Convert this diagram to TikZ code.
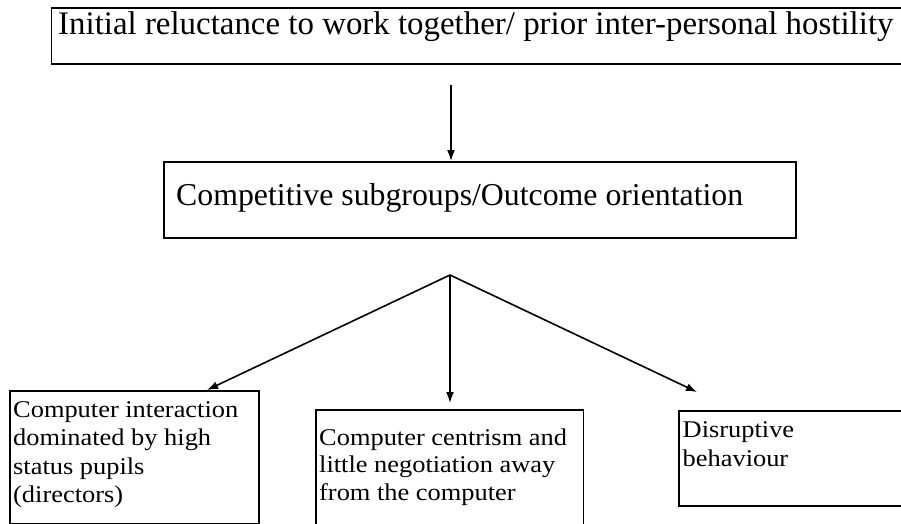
\documentclass[tikz,border=0pt]{standalone}
\usepackage{fontspec}
\setmainfont{Liberation Serif}
\newfontfamily\boxfont{Liberation Serif}[FakeStretch=1.1]
\usetikzlibrary{arrows.meta}
\begin{document}
\begin{tikzpicture}[x=1pt,y=-1pt,
  frame/.style={draw=black,line width=1.6pt,inner sep=0pt,anchor=north west,rectangle},
  bigtxt/.style={anchor=base west,inner sep=0pt,font=\fontsize{32.9}{36}\selectfont},
  midtxt/.style={anchor=base west,inner sep=0pt,font=\fontsize{31.8}{36}\selectfont},
  smalltxt/.style={anchor=base west,inner sep=0pt,font=\boxfont\fontsize{24}{28}\selectfont},
  conn/.style={line width=1.6pt},
  arr/.style={conn,-{Latex[length=11pt,width=8pt]}}]
\useasboundingbox (0,0) rectangle (901,524);
\begin{scope}
\clip (0,0) rectangle (901,524);
% boxes
\node[frame,minimum width=870pt,minimum height=56pt] (top) at (50.5,7) {};
\node[frame,minimum width=632pt,minimum height=76pt] (mid) at (163,161) {};
\node[frame,minimum width=249pt,minimum height=132.5pt] (b1) at (9,390) {};
\node[frame,minimum width=267.5pt,minimum height=130pt] (b2) at (315,409) {};
\node[frame,minimum width=240pt,minimum height=95pt] (b3) at (678,410) {};
\end{scope}
% texts
\node[bigtxt] (t0) at (58,34.5) {Initial reluctance to work together/ prior inter-personal hostility};
\node[midtxt] (t1) at (176,205) {Competitive subgroups/Outcome orientation};
\node[smalltxt] (a1) at (13,417) {Computer interaction};
\node[smalltxt] (a2) at (13,445.5) {dominated by high};
\node[smalltxt] (a3) at (13,474) {status pupils};
\node[smalltxt] (a4) at (13,502.5) {(directors)};
\node[smalltxt] (c1) at (319,445) {Computer centrism and};
\node[smalltxt] (c2) at (319,472.5) {little negotiation away};
\node[smalltxt] (c3) at (319,500) {from the computer};
\node[smalltxt] (d1) at (682.5,437) {Disruptive};
\node[smalltxt] (d2) at (682.5,466) {behaviour};
% connectors
\coordinate (start) at (451,85);
\coordinate (split) at (450,275);
\coordinate (tipA) at (207,390);
\coordinate (tipC) at (697,392);
\draw[arr] (start) -- (start |- mid.north);
\draw[arr] (split) -- (tipA |- b1.north);
\draw[arr,shorten >=6pt] (split) -- (split |- b2.north);
\draw[arr] (split) -- (tipC);
\end{tikzpicture}
\end{document}
